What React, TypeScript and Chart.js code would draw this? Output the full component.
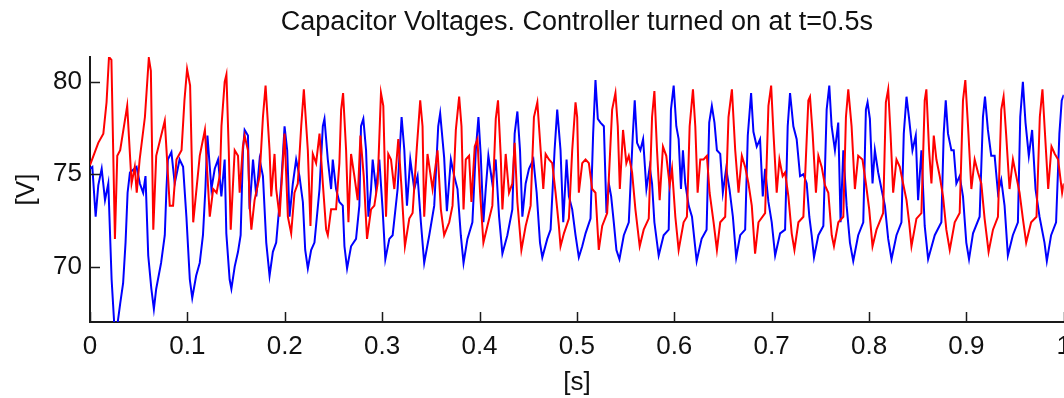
import { useEffect, useRef } from "react";
import { Chart, registerables } from "chart.js";

Chart.register(...registerables);

const chartTitle = "Capacitor Voltages. Controller turned on at t=0.5s";
const xAxisLabel = "[s]";
const yAxisLabel = "[V]";
const xTickValues = [0, 0.1, 0.2, 0.3, 0.4, 0.5, 0.6, 0.7, 0.8, 0.9, 1];
const yTickValues = [70, 75, 80];
const timeRange = [0, 1];
const voltRange = [67, 81.35];

// [time s, voltage V] – red capacitor
const redSamples: [number, number][] = [
  [0, 75.5], [0.0085, 76.7], [0.0137, 77.2], [0.017, 78.9], [0.0195, 81.35], [0.022, 81.2], [0.0256, 71.5], [0.028, 76.0], [0.031, 76.3], [0.0382, 78.7],
  [0.0427, 74.5], [0.046, 75.4], [0.048, 74.0], [0.051, 75.8], [0.0564, 78.1], [0.0604, 81.3], [0.0625, 80.6], [0.065, 72.0], [0.068, 76.0], [0.0768, 77.9],
  [0.0819, 73.3], [0.0853, 73.3], [0.0888, 75.8], [0.094, 76.3], [0.097, 79.0], [0.0997, 80.7], [0.1028, 79.8], [0.106, 72.4], [0.1127, 76.0], [0.118, 77.4],
  [0.123, 72.7], [0.1265, 74.2], [0.13, 74.0], [0.1335, 75.0], [0.135, 77.6], [0.1383, 80.0], [0.1401, 80.4], [0.1425, 76.3], [0.1445, 72.0], [0.1486, 76.3],
  [0.152, 76.0], [0.1537, 74.0], [0.157, 76.5], [0.1588, 77.1], [0.1622, 76.3], [0.164, 73.3], [0.1657, 72.0], [0.169, 73.6], [0.1742, 74.9], [0.1776, 78.1],
  [0.1803, 79.8], [0.1844, 76.3], [0.1861, 73.8], [0.1895, 76.1], [0.1912, 74.2], [0.1947, 72.7], [0.1998, 77.2], [0.2032, 72.7], [0.2066, 71.8], [0.21, 74.0],
  [0.2134, 74.5], [0.2169, 77.6], [0.2196, 79.6], [0.2237, 76.3], [0.2264, 72.2], [0.2288, 76.1], [0.2322, 75.6], [0.2357, 77.2], [0.2391, 74.5], [0.2425, 72.0],
  [0.2442, 71.7], [0.2476, 73.1], [0.2527, 73.1], [0.2561, 75.6], [0.2579, 78.5], [0.2599, 79.4], [0.263, 76.3], [0.2654, 72.4], [0.2681, 76.1], [0.2715, 74.9],
  [0.2749, 73.6], [0.2777, 77.1], [0.2811, 74.9], [0.2845, 71.5], [0.2886, 73.1], [0.292, 73.3], [0.2954, 74.5], [0.2988, 79.4], [0.3012, 78.7], [0.304, 72.7],
  [0.3063, 76.1], [0.3091, 75.8], [0.3125, 74.2], [0.3166, 76.9], [0.32, 74.2], [0.3234, 71.1], [0.3279, 72.6], [0.3313, 72.9], [0.3357, 76.5], [0.3391, 79.0],
  [0.3415, 77.6], [0.3432, 72.7], [0.3466, 76.1], [0.3518, 74.2], [0.3569, 76.3], [0.3603, 73.1], [0.3637, 71.7],
  [0.3689, 72.4], [0.3723, 73.3], [0.3757, 77.4], [0.3791, 79.2], [0.3815, 77.6], [0.3836, 73.1], [0.3859, 75.8], [0.3893, 76.0], [0.3917, 73.5], [0.3951, 76.5],
  [0.3979, 76.9], [0.4006, 74.0], [0.404, 71.3], [0.4081, 72.2], [0.4132, 73.3], [0.4167, 78.0], [0.419, 79.0], [0.4218, 76.0], [0.4235, 73.1], [0.4269, 76.1],
  [0.4303, 74.0], [0.4337, 74.5], [0.4361, 76.7], [0.4389, 73.5], [0.443, 70.9], [0.4474, 72.2], [0.4525, 73.3], [0.4559, 78.1], [0.4594, 78.9], [0.4628, 76.3],
  [0.4655, 74.2], [0.4679, 76.1], [0.4713, 75.8], [0.4747, 75.6], [0.4781, 74.0], [0.4815, 72.2], [0.4832, 71.1],
  [0.4867, 71.8], [0.4918, 72.6], [0.4952, 76.3], [0.4986, 78.9], [0.5003, 78.1], [0.502, 74.0], [0.5055, 75.6], [0.5089, 75.8], [0.5123, 75.6], [0.5157, 74.2],
  [0.5191, 74.0], [0.5225, 70.9], [0.526, 72.2], [0.5311, 72.9], [0.5362, 78.5], [0.5396, 79.4], [0.542, 77.6], [0.5441, 74.2], [0.5474, 77.4], [0.5508, 75.6],
  [0.5533, 76.0], [0.5567, 75.1], [0.5601, 73.1], [0.5645, 71.1], [0.5686, 72.0], [0.5738, 72.6], [0.5772, 78.1], [0.5796, 79.5], [0.5823, 76.3], [0.585, 73.6],
  [0.5884, 76.5], [0.5918, 76.0], [0.5953, 74.4], [0.5977, 75.3], [0.6011, 72.7], [0.6045, 70.9], [0.6096, 72.4],
  [0.613, 72.7], [0.6158, 77.6], [0.6192, 79.6], [0.6216, 77.6], [0.624, 74.0], [0.6267, 75.8], [0.6301, 75.8], [0.6335, 76.0], [0.6363, 74.0], [0.6404, 72.4],
  [0.6438, 70.9], [0.6472, 72.4], [0.6523, 72.7], [0.6557, 78.1], [0.6592, 79.6], [0.6626, 76.3], [0.666, 74.0], [0.6694, 76.0], [0.6728, 75.4], [0.6762, 74.5],
  [0.6796, 73.3], [0.683, 70.7], [0.6865, 72.4], [0.6933, 72.9], [0.6967, 78.7], [0.6995, 79.8], [0.7018, 77.3], [0.7052, 74.0], [0.708, 75.8], [0.7113, 74.9],
  [0.7138, 75.1], [0.7172, 73.8], [0.7206, 71.8], [0.7234, 70.9], [0.7275, 72.4], [0.7326, 72.7],
  [0.7377, 79.0], [0.7394, 79.2], [0.7421, 77.2], [0.7455, 74.0], [0.748, 76.0], [0.7514, 75.4], [0.7548, 74.4], [0.7582, 74.0], [0.7617, 71.7], [0.764, 71.1],
  [0.7685, 72.4], [0.7736, 72.7], [0.7763, 78.1], [0.7787, 79.6], [0.7821, 77.6], [0.7855, 74.2], [0.7889, 76.0], [0.7933, 75.8], [0.7968, 74.5], [0.8002, 73.1],
  [0.8036, 71.1], [0.8077, 72.0], [0.8145, 72.9], [0.8173, 78.9], [0.8197, 79.6], [0.8221, 77.2], [0.8248, 74.0], [0.8282, 75.8], [0.8316, 75.4], [0.835, 74.5],
  [0.8385, 73.6], [0.8412, 72.4], [0.8436, 71.1], [0.8487, 72.6], [0.8538, 72.9], [0.8572, 79.0],
  [0.8589, 79.6], [0.8617, 76.3], [0.8641, 74.5], [0.8665, 77.1], [0.8692, 75.8], [0.8726, 74.9], [0.876, 73.8], [0.8794, 72.0], [0.8829, 70.9], [0.888, 72.4],
  [0.8931, 72.9], [0.8965, 79.0], [0.8989, 80.1], [0.9017, 77.6], [0.9051, 74.2], [0.9085, 75.8], [0.9119, 75.1], [0.9153, 74.5], [0.9187, 72.6], [0.9228, 70.8],
  [0.9273, 72.0], [0.9324, 72.7], [0.9358, 78.5], [0.9382, 79.2], [0.9409, 77.1], [0.9443, 74.2], [0.9478, 75.8], [0.9512, 74.9], [0.9546, 74.0], [0.958, 72.6],
  [0.9614, 71.3], [0.9665, 72.4], [0.972, 72.7], [0.9754, 78.1], [0.9781, 79.6], [0.9805, 77.4], [0.984, 74.2], [0.9874, 76.5], [0.9908, 76.1], [0.9942, 75.8],
  [0.9983, 74.0], [1.0, 74.5],
];

// [time s, voltage V] – blue capacitor
const blueSamples: [number, number][] = [
  [0, 75.3], [0.0024, 75.4], [0.0058, 72.7], [0.0085, 74.4], [0.012, 75.3], [0.0154, 73.6], [0.0188, 74.5], [0.0222, 69.3], [0.025, 66.8], [0.028, 66.8],
  [0.031, 68.0], [0.034, 69.1], [0.0365, 71.3], [0.0386, 74.0], [0.041, 75.1], [0.0478, 75.4], [0.0512, 74.5], [0.0546, 74.0], [0.057, 74.9], [0.0598, 70.6],
  [0.063, 68.8], [0.0656, 67.7], [0.068, 68.8], [0.073, 70.2], [0.0768, 71.7], [0.0785, 74.2], [0.08, 75.8], [0.0836, 76.2], [0.087, 74.5], [0.092, 75.8],
  [0.0956, 75.4], [0.099, 72.7], [0.1025, 69.3], [0.105, 68.3], [0.109, 69.5], [0.1127, 70.2], [0.116, 71.7], [0.1185, 74.2],
  [0.1206, 77.1], [0.1247, 74.2], [0.1281, 75.3], [0.1315, 75.8], [0.1349, 73.8], [0.1383, 75.8], [0.14, 71.8], [0.1434, 69.3], [0.1452, 68.8], [0.1486, 70.0],
  [0.152, 70.8], [0.1547, 71.7], [0.1571, 76.3], [0.1588, 77.4], [0.1622, 77.1], [0.1639, 73.1], [0.1674, 75.8], [0.1708, 73.8], [0.1742, 75.8], [0.1776, 74.9],
  [0.181, 71.3], [0.1844, 69.5], [0.1878, 70.8], [0.1912, 71.3], [0.1964, 74.5], [0.1998, 77.6], [0.2025, 76.3], [0.2049, 72.7], [0.2083, 74.5], [0.2117, 75.8],
  [0.2151, 74.9], [0.2186, 73.5], [0.221, 70.9], [0.2237, 69.9], [0.2271, 70.9], [0.2305, 71.3], [0.2357, 74.2], [0.2391, 77.6], [0.2408, 78.0],
  [0.2442, 75.8], [0.2476, 74.2], [0.2493, 75.8], [0.2527, 74.2], [0.2561, 73.5], [0.2596, 73.3], [0.2613, 71.1], [0.264, 69.9], [0.2681, 71.1], [0.2732, 71.5],
  [0.2766, 73.3], [0.2783, 77.6], [0.2807, 78.0], [0.2835, 76.3], [0.2859, 72.7], [0.2886, 74.2], [0.2903, 75.8], [0.2937, 74.2], [0.2971, 75.8], [0.3005, 73.1],
  [0.3033, 70.4], [0.3074, 71.5], [0.3108, 71.7], [0.3159, 74.2], [0.32, 78.1], [0.3228, 76.3], [0.3255, 73.3], [0.3289, 75.8], [0.333, 74.2], [0.3364, 74.9],
  [0.3398, 72.4], [0.3432, 70.2], [0.3484, 71.7], [0.3535, 73.3], [0.3576, 77.6], [0.3596, 78.3], [0.3637, 75.9], [0.3665, 73.0],
  [0.3706, 75.8], [0.374, 74.9], [0.3774, 74.2], [0.3808, 71.7], [0.3836, 70.2], [0.3876, 71.5], [0.3927, 72.4], [0.3962, 76.3], [0.3989, 78.1], [0.4013, 76.0],
  [0.404, 72.4], [0.4064, 74.2], [0.4091, 76.0], [0.4132, 74.5], [0.4166, 75.8], [0.4201, 72.7], [0.4235, 70.7], [0.4286, 71.7], [0.4337, 73.1], [0.4361, 77.2],
  [0.4389, 78.4], [0.4416, 76.3], [0.444, 72.7], [0.4474, 74.5], [0.4508, 75.3], [0.4553, 75.8], [0.4587, 74.0], [0.4621, 71.3], [0.4645, 70.5], [0.4696, 71.5],
  [0.473, 72.0], [0.4771, 76.3], [0.4798, 78.5], [0.4832, 76.3], [0.486, 72.4], [0.4894, 75.8],
  [0.4918, 73.8], [0.4952, 73.1], [0.4986, 71.7], [0.502, 70.5], [0.5055, 71.1], [0.5089, 71.8], [0.514, 72.6], [0.5167, 77.2], [0.5191, 80.1], [0.5215, 78.0],
  [0.5242, 77.8], [0.5277, 77.6], [0.5304, 72.9], [0.5328, 74.5], [0.5352, 73.8], [0.5379, 72.4], [0.5406, 70.9], [0.5437, 70.4], [0.5482, 71.7], [0.5533, 72.4],
  [0.5574, 77.1], [0.5594, 79.0], [0.5618, 76.7], [0.5652, 76.3], [0.568, 76.9], [0.5714, 74.2], [0.5748, 75.4], [0.5772, 74.5], [0.5796, 72.4], [0.584, 70.6],
  [0.5891, 71.7], [0.5943, 72.0], [0.5966, 78.5], [0.5994, 79.8], [0.6021, 77.6], [0.6045, 76.9], [0.6069, 74.2], [0.6089, 76.3], [0.6113, 74.5],
  [0.6148, 73.3], [0.6182, 72.7], [0.6206, 71.5], [0.623, 70.3], [0.6281, 71.5], [0.6332, 72.0], [0.6359, 77.8], [0.6386, 78.7], [0.6413, 77.8], [0.6438, 76.3],
  [0.6472, 76.1], [0.6499, 74.0], [0.6533, 75.3], [0.6567, 74.2], [0.6602, 72.7], [0.6636, 70.5], [0.6677, 71.7], [0.6728, 72.0], [0.6755, 77.1], [0.6789, 79.4],
  [0.6813, 77.3], [0.6847, 76.5], [0.6881, 76.9], [0.6909, 73.8], [0.6933, 75.3], [0.6967, 73.5], [0.7001, 72.4], [0.7036, 70.6], [0.7087, 71.8], [0.7138, 72.0],
  [0.7165, 77.6], [0.7189, 79.4], [0.7223, 77.6], [0.7257, 76.9], [0.7292, 74.9], [0.7326, 75.0],
  [0.736, 74.5], [0.7387, 72.7], [0.7411, 71.7], [0.7435, 70.5], [0.748, 71.7], [0.7531, 72.2], [0.7565, 78.5], [0.7592, 79.8], [0.7616, 77.6], [0.765, 76.3],
  [0.7684, 77.8], [0.7708, 72.4], [0.7736, 76.3], [0.777, 73.3], [0.7804, 71.3], [0.7838, 70.3], [0.7889, 71.7], [0.7941, 72.4], [0.7968, 78.5], [0.7985, 78.9],
  [0.8009, 78.0], [0.8036, 74.5], [0.806, 76.3], [0.8094, 75.1], [0.8128, 74.2], [0.8163, 73.3], [0.8197, 71.5], [0.8231, 70.4], [0.8282, 71.7], [0.8333, 72.4],
  [0.8357, 77.2], [0.8385, 79.2], [0.8412, 78.0], [0.8446, 76.3], [0.848, 77.1], [0.8504, 73.6], [0.8538, 76.3], [0.8572, 72.2], [0.8607, 70.4],
  [0.8675, 71.7], [0.8743, 72.4], [0.8767, 77.2], [0.8788, 79.0], [0.8811, 77.2], [0.8846, 76.3], [0.887, 76.3], [0.8897, 74.5], [0.8931, 74.9], [0.8965, 73.8],
  [0.8999, 71.3], [0.9027, 70.4], [0.9068, 71.8], [0.9136, 72.7], [0.917, 78.1], [0.9191, 79.2], [0.9221, 77.4], [0.9255, 76.0], [0.929, 76.0], [0.9324, 74.0],
  [0.9358, 74.7], [0.9392, 73.3], [0.9426, 70.6], [0.9477, 71.7], [0.9529, 72.4], [0.9553, 78.1], [0.958, 80.0], [0.9607, 77.8], [0.9641, 76.0], [0.9675, 77.4],
  [0.971, 74.2], [0.9751, 72.7], [0.9802, 71.3], [0.9826, 70.3], [0.987, 71.7], [0.9921, 72.4], [0.9955, 77.2], [0.9979, 79.0], [1.0, 79.3],
];

const FONT_FAMILY = "'Liberation Sans', Arial, Helvetica, sans-serif";
const TEXT_COLOR = "#111111";
const AXIS_COLOR = "#1a1a1a";

const fmt = (v: number) => String(Number(Number(v).toFixed(2)));

const inwardTicks = {
  id: "inwardTicks",
  afterDraw(chart: any) {
    const { ctx, chartArea, scales } = chart;
    ctx.save();
    ctx.strokeStyle = AXIS_COLOR;
    ctx.lineWidth = 1.5;
    ctx.beginPath();
    xTickValues.forEach((v) => {
      const px = Math.round(scales.x.getPixelForValue(v)) + 0.5;
      ctx.moveTo(px, chartArea.bottom);
      ctx.lineTo(px, chartArea.bottom - 10);
    });
    yTickValues.forEach((v) => {
      const py = Math.round(scales.y.getPixelForValue(v)) + 0.5;
      ctx.moveTo(chartArea.left, py);
      ctx.lineTo(chartArea.left + 10, py);
    });
    ctx.stroke();
    ctx.restore();
  },
};

export default function App() {
  const canvasRef = useRef<HTMLCanvasElement | null>(null);

  useEffect(() => {
    if (!canvasRef.current) return;
    const chart = new Chart(canvasRef.current, {
      type: "line",
      data: {
        datasets: [
          {
            label: "Vc2",
            data: redSamples.map(([t, v]) => ({ x: t, y: v })),
            borderColor: "#ff0000",
            borderWidth: 2,
            pointRadius: 0,
            tension: 0,
            fill: false,
          },
          {
            label: "Vc1",
            data: blueSamples.map(([t, v]) => ({ x: t, y: v })),
            borderColor: "#0000ff",
            borderWidth: 2,
            pointRadius: 0,
            tension: 0,
            fill: false,
          },
        ],
      },
      options: {
        animation: false,
        responsive: false,
        devicePixelRatio: 1,
        layout: { padding: { left: 0, right: 15, top: 0, bottom: 0 } },
        plugins: {
          legend: { display: false },
          tooltip: { enabled: false },
          title: {
            display: true,
            text: chartTitle,
            fullSize: false,
            color: TEXT_COLOR,
            font: { family: FONT_FAMILY, size: 27, weight: "normal" },
            padding: { top: 6, bottom: 18.6 },
          },
        },
        scales: {
          x: {
            type: "linear",
            min: timeRange[0],
            max: timeRange[1],
            afterBuildTicks: (scale: any) => {
              scale.ticks = xTickValues.map((value) => ({ value }));
            },
            afterFit: (scale: any) => {
              scale.height = 76;
            },
            grid: { display: false, drawTicks: false, tickLength: 0 },
            border: { display: true, color: AXIS_COLOR, width: 2 },
            ticks: {
              color: TEXT_COLOR,
              font: { family: FONT_FAMILY, size: 26 },
              padding: 9,
              maxRotation: 0,
              autoSkip: false,
              callback: (v: any) => fmt(v),
            },
            title: {
              display: true,
              text: xAxisLabel,
              color: TEXT_COLOR,
              font: { family: FONT_FAMILY, size: 26 },
              padding: { top: 0, bottom: 0 },
            },
          },
          y: {
            type: "linear",
            min: voltRange[0],
            max: voltRange[1],
            afterBuildTicks: (scale: any) => {
              scale.ticks = yTickValues.map((value) => ({ value }));
            },
            afterFit: (scale: any) => {
              scale.width = 90;
            },
            grid: { display: false, drawTicks: false, tickLength: 0 },
            border: { display: true, color: AXIS_COLOR, width: 2 },
            ticks: {
              color: TEXT_COLOR,
              font: { family: FONT_FAMILY, size: 26 },
              padding: 8,
              callback: (v: any) => fmt(v),
            },
            title: {
              display: true,
              text: yAxisLabel,
              color: TEXT_COLOR,
              font: { family: FONT_FAMILY, size: 26 },
              padding: { top: 11, bottom: 0 },
            },
          },
        },
      },
      plugins: [inwardTicks],
    });
    return () => chart.destroy();
  }, []);

  return (
    <div
      style={{
        position: "fixed",
        left: 0,
        top: 0,
        width: 1064,
        height: 398,
        overflow: "hidden",
        background: "#ffffff",
      }}
    >
      <canvas ref={canvasRef} width={1080} height={398} style={{ display: "block" }} />
    </div>
  );
}
